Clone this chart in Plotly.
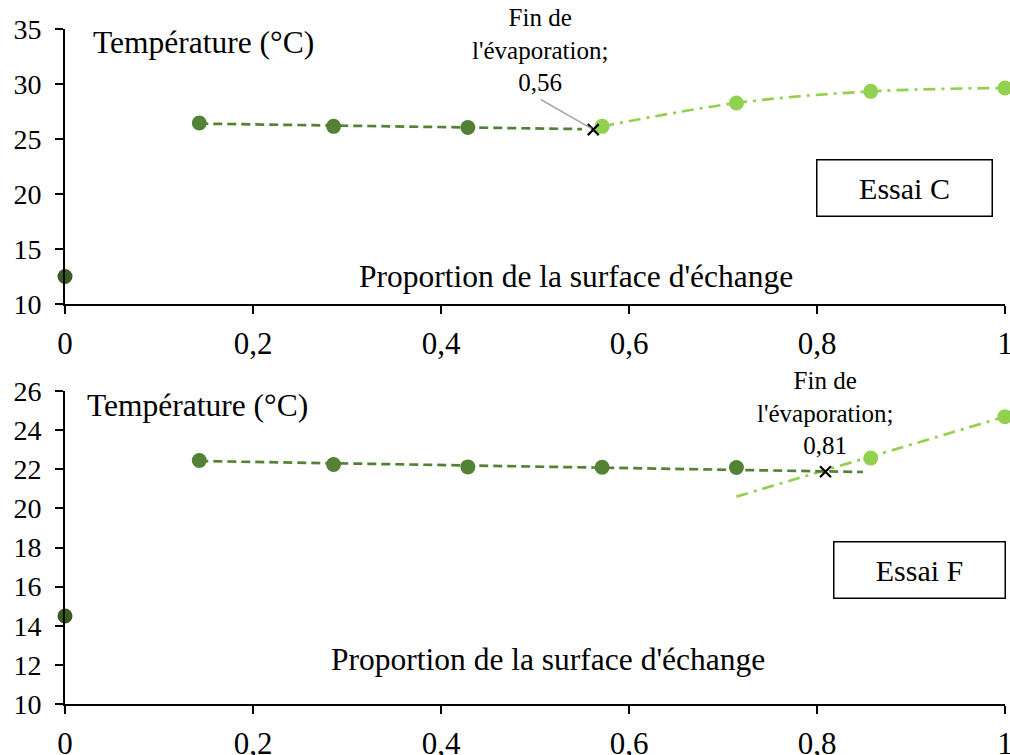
import plotly.graph_objects as go

FONT = "Liberation Serif, Times New Roman, serif"
DARK = "#548235"
DARKER = "#3A5A24"
LIGHT = "#92D050"

# ---------- data: Essai C (top) ----------
c_start_x = [0]
c_start_y = [12.5]
c_dark_x = [1/7, 2/7, 3/7]
c_dark_y = [26.45, 26.15, 26.05]
c_light_x = [4/7, 5/7, 6/7, 1.0]
c_light_y = [26.15, 28.27, 29.33, 29.64]
c_trend_dark_x = [1/7, 0.55]
c_trend_dark_y = [26.4, 25.9]
c_evap_x = [0.562]
c_evap_y = [25.85]
c_evap_label = "Fin de<br>l'évaporation;<br>0,56"

# ---------- data: Essai F (bottom) ----------
f_start_x = [0]
f_start_y = [14.5]
f_dark_x = [1/7, 2/7, 3/7, 4/7, 5/7]
f_dark_y = [22.45, 22.24, 22.12, 22.1, 22.09]
f_light_x = [6/7, 1.0]
f_light_y = [22.57, 24.69]
f_trend_dark_x = [1/7, 0.849]
f_trend_dark_y = [22.42, 21.86]
f_trend_light_x = [5/7, 1.0]
f_trend_light_y = [20.6, 24.69]
f_evap_x = [0.809]
f_evap_y = [21.87]
f_evap_label = "Fin de<br>l'évaporation;<br>0,81"

x_tickvals = [0, 0.2, 0.4, 0.6, 0.8, 1.0]
x_ticktext = ["0", "0,2", "0,4", "0,6", "0,8", "1"]
yC_tickvals = [10, 15, 20, 25, 30, 35]
yC_ticktext = ["10", "15", "20", "25", "30", "35"]
yF_tickvals = [10, 12, 14, 16, 18, 20, 22, 24, 26]
yF_ticktext = ["10", "12", "14", "16", "18", "20", "22", "24", "26"]

y_title = "Température (°C)"
x_title = "Proportion de la surface d'échange"
label_C = "Essai C"
label_F = "Essai F"

fig = go.Figure()

MS = 15
DASH = "9px,5px"
DASHDOT = "12px,6px,3px,6px"
LW = 2.7

# top
fig.add_trace(go.Scatter(x=c_trend_dark_x, y=c_trend_dark_y, mode="lines",
                         line=dict(color=DARK, width=LW, dash=DASH), xaxis="x", yaxis="y"))
fig.add_trace(go.Scatter(x=c_light_x, y=c_light_y, mode="lines",
                         line=dict(color=LIGHT, width=LW, dash=DASHDOT, shape="spline"),
                         xaxis="x", yaxis="y"))
fig.add_trace(go.Scatter(x=c_start_x, y=c_start_y, mode="markers",
                         marker=dict(color=DARKER, size=MS), xaxis="x", yaxis="y", cliponaxis=False))
fig.add_trace(go.Scatter(x=c_dark_x, y=c_dark_y, mode="markers",
                         marker=dict(color=DARK, size=MS), xaxis="x", yaxis="y"))
fig.add_trace(go.Scatter(x=c_light_x, y=c_light_y, mode="markers",
                         marker=dict(color=LIGHT, size=MS), xaxis="x", yaxis="y", cliponaxis=False))
fig.add_trace(go.Scatter(x=c_evap_x, y=c_evap_y, mode="markers",
                         marker=dict(symbol="x-thin", size=11, line=dict(color="black", width=2.2)),
                         xaxis="x", yaxis="y"))

# bottom
fig.add_trace(go.Scatter(x=f_trend_light_x, y=f_trend_light_y, mode="lines",
                         line=dict(color=LIGHT, width=LW, dash=DASHDOT), xaxis="x2", yaxis="y2"))
fig.add_trace(go.Scatter(x=f_trend_dark_x, y=f_trend_dark_y, mode="lines",
                         line=dict(color=DARK, width=LW, dash=DASH), xaxis="x2", yaxis="y2"))
fig.add_trace(go.Scatter(x=f_start_x, y=f_start_y, mode="markers",
                         marker=dict(color=DARKER, size=MS), xaxis="x2", yaxis="y2", cliponaxis=False))
fig.add_trace(go.Scatter(x=f_dark_x, y=f_dark_y, mode="markers",
                         marker=dict(color=DARK, size=MS), xaxis="x2", yaxis="y2"))
fig.add_trace(go.Scatter(x=f_light_x, y=f_light_y, mode="markers",
                         marker=dict(color=LIGHT, size=MS), xaxis="x2", yaxis="y2", cliponaxis=False))
fig.add_trace(go.Scatter(x=f_evap_x, y=f_evap_y, mode="markers",
                         marker=dict(symbol="x-thin", size=11, line=dict(color="black", width=2.2)),
                         xaxis="x2", yaxis="y2"))

TOP_DOM = [0.5926, 1.0]
BOT_DOM = [0.0, 0.4637]
XTICKFONT = dict(family=FONT, size=31, color="black")
YTICKFONT = dict(family=FONT, size=28, color="black")

def xax(anchor, inside=False, overlay=None):
    d = dict(range=[0, 1], domain=[0, 1], anchor=anchor, tickmode="array",
             tickvals=x_tickvals, ticktext=x_ticktext, showgrid=False, zeroline=False,
             showline=True, linecolor="black", linewidth=2,
             ticks="inside" if inside else "outside", ticklen=8, tickwidth=2,
             tickcolor="black", tickfont=XTICKFONT, showticklabels=not inside,
             ticklabelstandoff=3, ticklabeloverflow="allow",
             fixedrange=True, automargin=False)
    if overlay:
        d["overlaying"] = overlay
    return d

def yax(anchor, rng, tv, tt, dom, inside=False, overlay=None):
    d = dict(range=rng, domain=dom, anchor=anchor, tickmode="array",
             tickvals=tv, ticktext=tt, showgrid=False, zeroline=False,
             showline=True, linecolor="black", linewidth=2,
             ticks="inside" if inside else "outside", ticklen=8, tickwidth=2,
             tickcolor="black", tickfont=YTICKFONT, showticklabels=not inside,
             ticklabelstandoff=8, ticklabeloverflow="allow",
             fixedrange=True, automargin=False)
    if overlay:
        d["overlaying"] = overlay
    return d

fig.update_layout(
    width=1010, height=755,
    margin=dict(l=65, r=5, t=29, b=51, autoexpand=False),
    paper_bgcolor="white", plot_bgcolor="rgba(0,0,0,0)",
    showlegend=False,
    font=dict(family=FONT, color="black"),
    xaxis=xax("y"),
    yaxis=yax("x", [10, 35], yC_tickvals, yC_ticktext, TOP_DOM),
    xaxis2=xax("y2"),
    yaxis2=yax("x2", [10, 26], yF_tickvals, yF_ticktext, BOT_DOM),
    xaxis3=xax("y3", inside=True, overlay="x"),
    yaxis3=yax("x3", [10, 35], yC_tickvals, yC_ticktext, TOP_DOM, inside=True, overlay="y"),
    xaxis4=xax("y4", inside=True, overlay="x2"),
    yaxis4=yax("x4", [10, 26], yF_tickvals, yF_ticktext, BOT_DOM, inside=True, overlay="y2"),
)

TF = dict(family=FONT, size=31.5)
ann = []
# axis titles inside plots
ann.append(dict(text=y_title, x=0.0277, y=33.75, xref="x", yref="y", xanchor="left",
                yanchor="middle", showarrow=False, font=TF))
ann.append(dict(text=y_title, x=0.0213, y=25.28, xref="x2", yref="y2", xanchor="left",
                yanchor="middle", showarrow=False, font=TF))
ann.append(dict(text=x_title, x=0.544, y=12.48, xref="x", yref="y", xanchor="center",
                yanchor="middle", showarrow=False, font=TF))
ann.append(dict(text=x_title, x=0.514, y=12.25, xref="x2", yref="y2", xanchor="center",
                yanchor="middle", showarrow=False, font=TF))
# boxed labels
ann.append(dict(text=label_C, x=0.8926, y=20.57, xref="x", yref="y", showarrow=False,
                width=174, height=55, bordercolor="black", borderwidth=1.5, borderpad=0,
                bgcolor="white", font=dict(family=FONT, size=30)))
ann.append(dict(text=label_F, x=0.909, y=16.85, xref="x2", yref="y2", showarrow=False,
                width=170, height=55, bordercolor="black", borderwidth=1.5, borderpad=0,
                bgcolor="white", font=dict(family=FONT, size=30)))
# evaporation labels
EF = dict(family=FONT, size=25)
ann.append(dict(text=c_evap_label, x=0.505, y=33.08, xref="x", yref="y", showarrow=False,
                font=EF, align="center"))
ann.append(dict(text=" ", x=c_evap_x[0], y=c_evap_y[0], xref="x", yref="y", showarrow=True,
                ax=-54, ay=-31, arrowhead=0, arrowwidth=1.5, arrowcolor="#A6A6A6",
                font=dict(size=1), standoff=2))
ann.append(dict(text=f_evap_label, x=0.8085, y=24.87, xref="x2", yref="y2", showarrow=False,
                font=EF, align="center"))
fig.update_layout(annotations=ann)

fig.write_html(
    "out.html",
    config={"displayModeBar": False},
    post_script="document.body.style.margin='0';document.body.style.overflow='hidden';",
)
